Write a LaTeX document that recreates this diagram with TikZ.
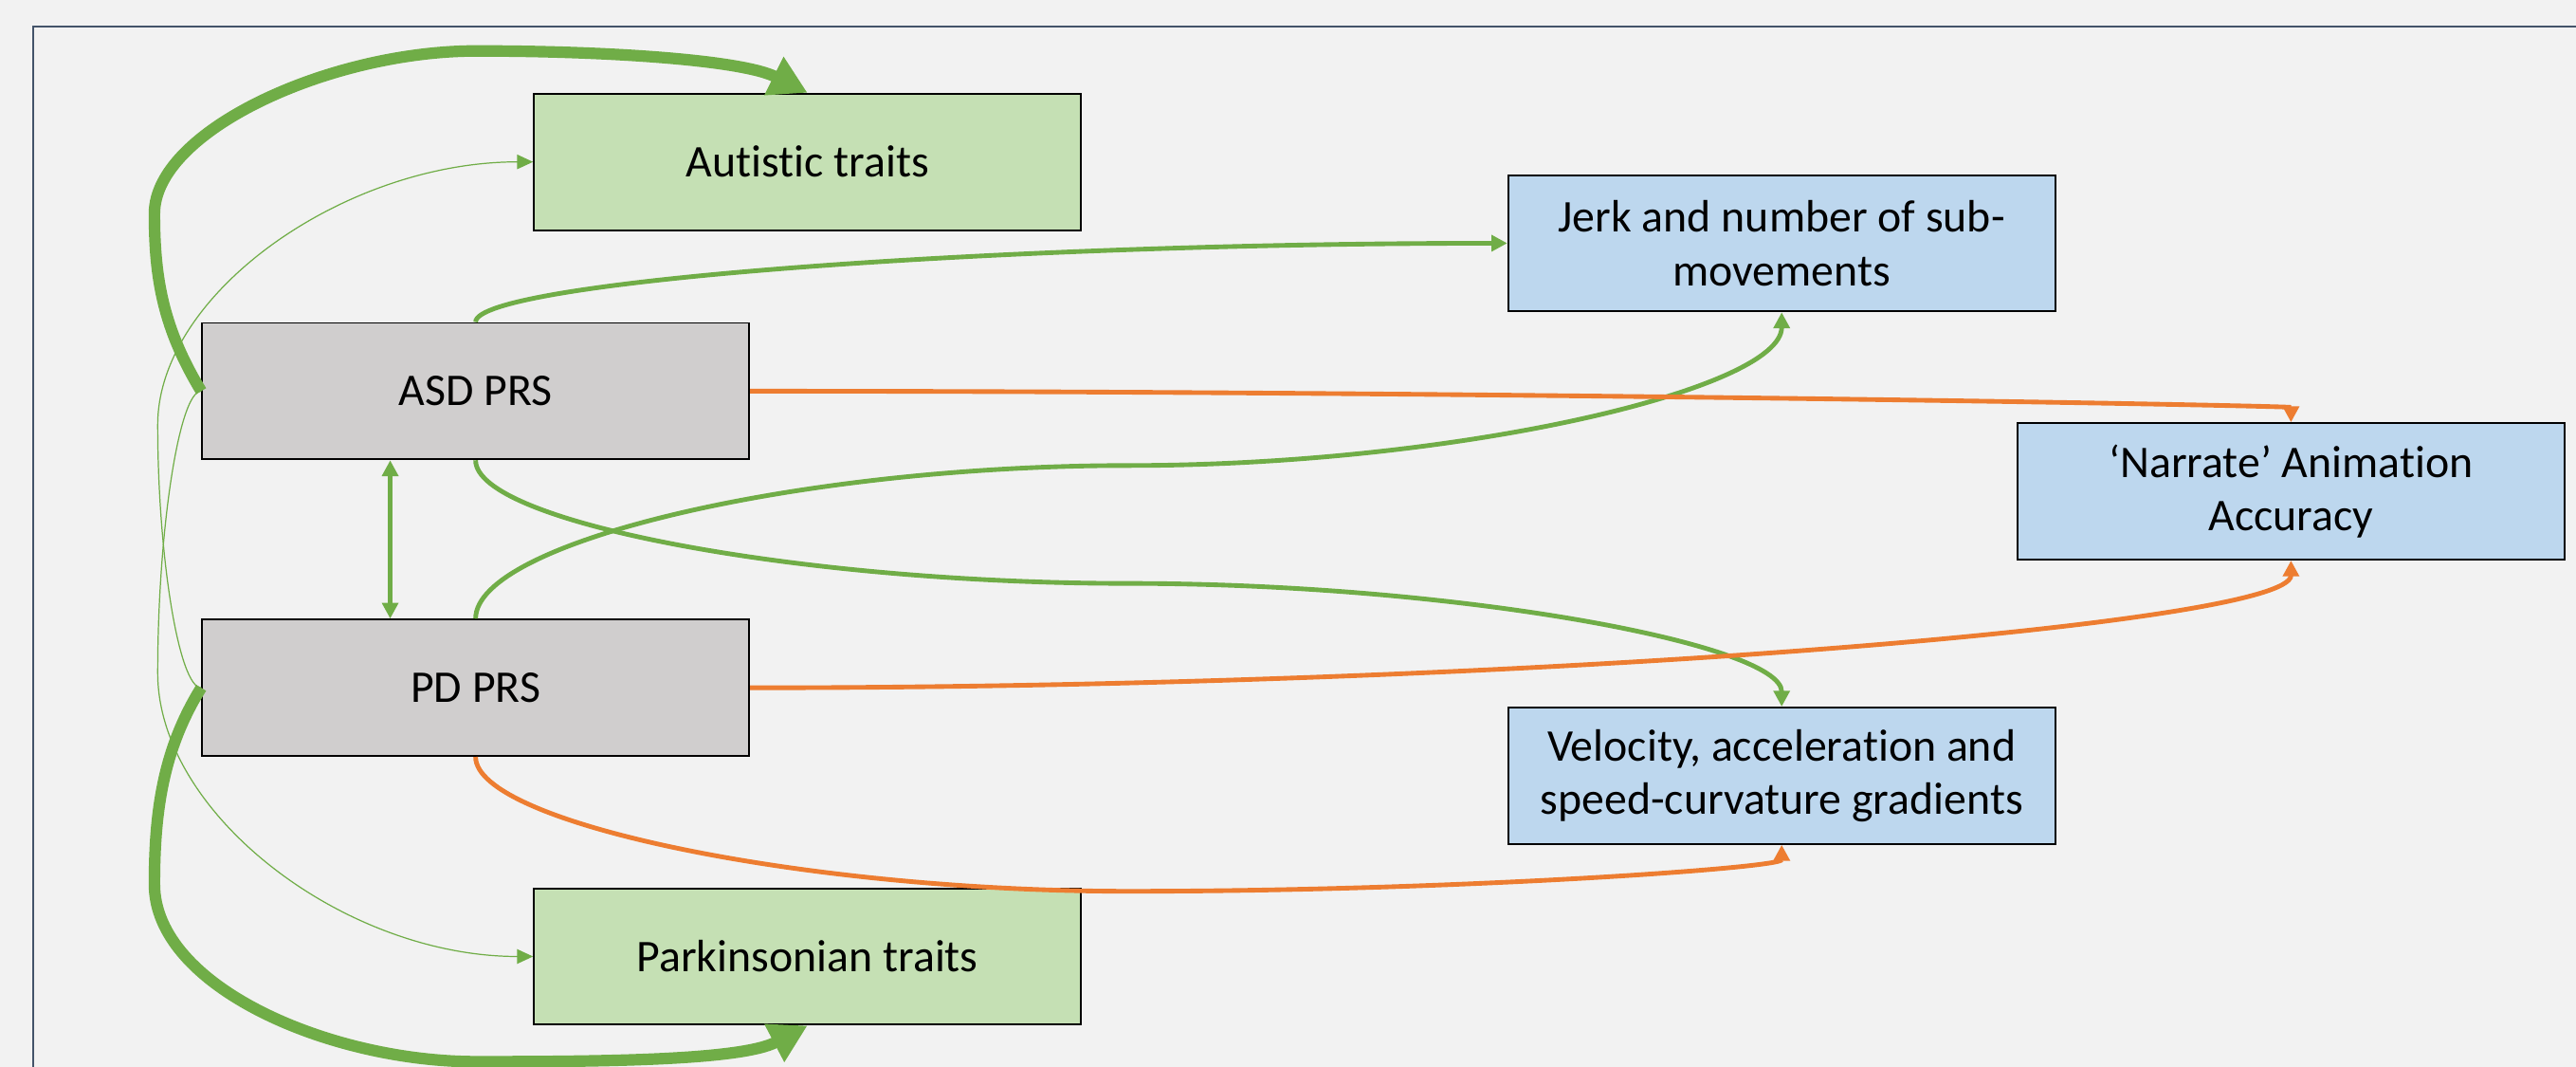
\documentclass[tikz,border=0pt]{standalone}
\usepackage{fontspec}
\setmainfont{Carlito}[Ligatures=NoCommon]
\usetikzlibrary{calc,arrows.meta}
\definecolor{bgcol}{HTML}{F2F2F2}
\definecolor{framecol}{HTML}{44546A}
\definecolor{grn}{HTML}{70AD47}
\definecolor{org}{HTML}{ED7D31}
\definecolor{prs}{HTML}{D0CECE}
\definecolor{trait}{HTML}{C5E0B4}
\definecolor{kin}{HTML}{BDD7EE}
\begin{document}
\begin{tikzpicture}[x=0.02cm, y=-0.02cm, >={Triangle[length=5.5pt,width=5.5pt]},
    box/.style={rectangle, draw, line width=0.65pt, minimum width=6.66cm,
      minimum height=1.66cm, align=center, inner sep=0pt,
      font=\fontsize{15.7}{18.5}\selectfont},
    thickarr/.style={draw=grn, line width=4pt,
      -{Triangle[length=13pt,width=14pt]}},
    medline/.style={line width=1.6pt},
    thinarr/.style={draw=grn, line width=0.4pt,
      -{Triangle[length=5.5pt,width=5pt]}}]
  \useasboundingbox (0,0) rectangle (1568,649);
  \fill[bgcol] (0,0) rectangle (1568,649);
  \draw[framecol, line width=0.65pt] (20,649) -- (20,16) -- (1568,16);

  \node[box, fill=trait] (AUT) at (491.5,98.5) {Autistic traits};
  \node[box, fill=kin] (JERK) at (1084.5,148) {Jerk and number of sub-\\movements};
  \node[box, fill=prs] (ASD) at (289.5,238) {ASD PRS};
  \node[box, fill=kin] (NARR) at (1394.5,299) {‘Narrate’ Animation\\Accuracy};
  \node[box, fill=prs] (PD) at (289.5,418.5) {PD PRS};
  \node[box, fill=kin] (VEL) at (1084.5,472) {Velocity, acceleration and\\speed-curvature gradients};
  \node[box, fill=trait] (PARK) at (491.5,582) {Parkinsonian traits};

  % PRS -> traits
  \draw[thickarr] (ASD.west) .. controls +(-23,-38) and +(0,40) .. (94,130)
    .. controls +(0,-50) and +(-90,0) .. (290,31)
    .. controls +(80,0) and +(-40,-20) .. (AUT.north);
  \draw[thickarr] (PD.west) .. controls +(-23,37) and +(0,-45) .. (94,538)
    .. controls +(0,62) and +(-90,0) .. (290,646)
    .. controls +(80,0) and +(-40,21) .. (PARK.south);
  \draw[thinarr] (PD.west) .. controls +(-13.5,0) and +(0,80) .. (96,258.5)
    .. controls +(0,-80) and +(-114.5,0) .. (AUT.west);
  \draw[thinarr] (ASD.west) .. controls +(-13.5,0) and +(0,-86) .. (96,409.5)
    .. controls +(0,86) and +(-114.5,0) .. (PARK.west);
  \draw[medline, grn, <->] ($(ASD.south)+(-52,0)$) -- ($(PD.north)+(-52,0)$);

  % PRS -> kinematics
  \draw[medline, grn, ->] (ASD.north) .. controls +(0,-24.5) and +(-314,0) .. (JERK.west);
  \draw[medline, grn, ->] (ASD.south) .. controls +(0,38) and +(-198.5,0)
    .. ($(ASD.south)!.5!(VEL.north)$) .. controls +(198.5,0) and +(0,-38) .. (VEL.north);
  \draw[medline, grn, ->] (PD.north) .. controls +(0,-47) and +(-198.5,0)
    .. ($(PD.north)!.5!(JERK.south)$) .. controls +(198.5,0) and +(0,47) .. (JERK.south);
  \draw[medline, org, ->] (ASD.east) .. controls +(469,0) and +(0,-10) .. (NARR.north);
  \draw[medline, org, ->] (PD.east) .. controls +(469,0) and +(0,39) .. (NARR.south);
  \draw[medline, org, ->] (PD.south) .. controls +(0,40) and +(-198.5,0)
    .. ($(PD.south)!.5!(VEL.south)+(0,55)$) .. controls +(198.5,0) and +(0,14) .. (VEL.south);
\end{tikzpicture}
\end{document}
